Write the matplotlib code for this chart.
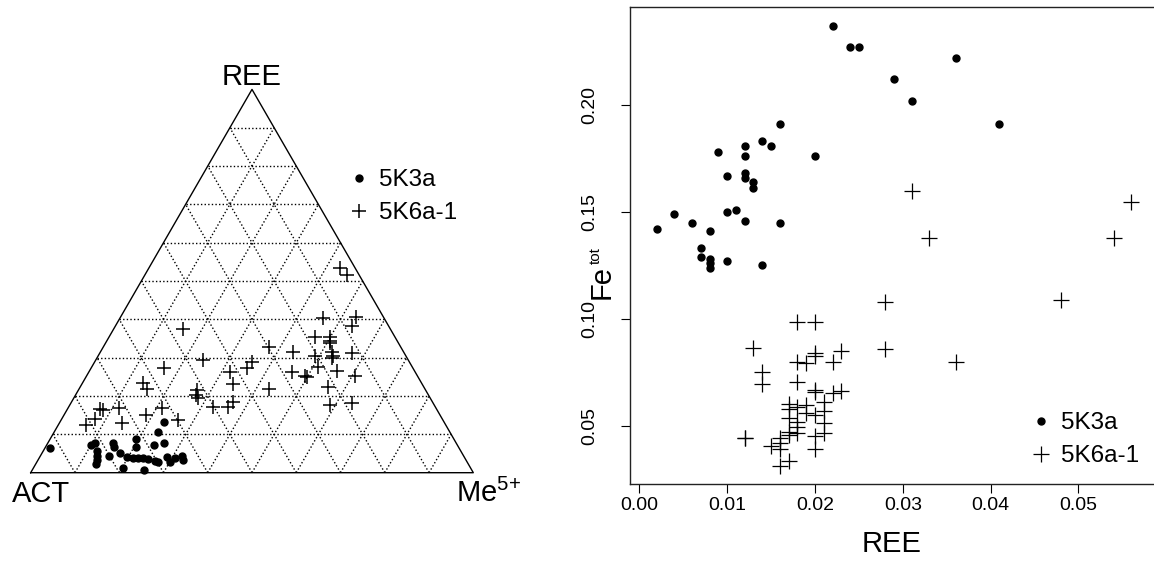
import numpy as np
import matplotlib
matplotlib.use("Agg")
import matplotlib.pyplot as plt

plt.rcParams['font.family'] = ['Liberation Sans', 'DejaVu Sans']
plt.rcParams['mathtext.fontset'] = 'custom'
plt.rcParams['mathtext.rm'] = 'Liberation Sans'
plt.rcParams['mathtext.it'] = 'Liberation Sans:italic'

# ternary compositions (fractions of ACT, REE, Me5+)
act_5k3a = [0.924, 0.632, 0.658, 0.659, 0.685, 0.828, 0.816, 0.822, 0.828, 0.834, 0.841,
            0.776, 0.778, 0.718, 0.728, 0.801, 0.773, 0.762, 0.749, 0.737, 0.727, 0.717,
            0.704, 0.697, 0.786, 0.740, 0.672, 0.671, 0.655, 0.637, 0.640]
ree_5k3a = [0.065, 0.133, 0.107, 0.078, 0.071, 0.072, 0.077, 0.057, 0.044, 0.033, 0.022,
            0.078, 0.068, 0.088, 0.066, 0.044, 0.051, 0.042, 0.038, 0.039, 0.038, 0.035,
            0.031, 0.029, 0.013, 0.007, 0.042, 0.029, 0.038, 0.044, 0.033]
me_5k3a = [0.011, 0.235, 0.235, 0.263, 0.244, 0.100, 0.107, 0.121, 0.128, 0.133, 0.137,
           0.146, 0.154, 0.194, 0.206, 0.155, 0.176, 0.196, 0.213, 0.224, 0.235, 0.248,
           0.265, 0.274, 0.201, 0.253, 0.286, 0.300, 0.307, 0.319, 0.327]

act_5k6a = [0.035, 0.028, 0.062, 0.083, 0.137, 0.181, 0.147, 0.152, 0.155, 0.249,
            0.206, 0.162, 0.164, 0.171, 0.118, 0.277, 0.254, 0.252, 0.213, 0.176,
            0.141, 0.216, 0.235, 0.183, 0.470, 0.296, 0.463, 0.561, 0.418, 0.356,
            0.376, 0.427, 0.352, 0.630, 0.629, 0.517, 0.525, 0.524, 0.501, 0.468,
            0.450, 0.620, 0.715, 0.760, 0.754, 0.664, 0.598, 0.729, 0.785, 0.813]
ree_5k6a = [0.533, 0.516, 0.407, 0.383, 0.403, 0.353, 0.353, 0.344, 0.338, 0.316,
            0.304, 0.316, 0.304, 0.298, 0.313, 0.263, 0.252, 0.249, 0.275, 0.266,
            0.252, 0.224, 0.177, 0.183, 0.374, 0.329, 0.294, 0.274, 0.263, 0.290,
            0.272, 0.231, 0.218, 0.233, 0.218, 0.216, 0.203, 0.194, 0.172, 0.172,
            0.185, 0.168, 0.170, 0.166, 0.164, 0.151, 0.137, 0.130, 0.139, 0.124]
me_5k6a = [0.432, 0.456, 0.531, 0.534, 0.460, 0.466, 0.500, 0.504, 0.507, 0.435,
           0.490, 0.522, 0.532, 0.531, 0.569, 0.460, 0.494, 0.499, 0.512, 0.558,
           0.607, 0.560, 0.588, 0.634, 0.156, 0.375, 0.243, 0.165, 0.319, 0.354,
           0.352, 0.342, 0.430, 0.137, 0.153, 0.267, 0.272, 0.282, 0.327, 0.360,
           0.365, 0.212, 0.115, 0.074, 0.082, 0.185, 0.265, 0.141, 0.076, 0.063]

# REE vs Fe(tot), apfu
ree2_5k3a = [0.022, 0.024, 0.025, 0.036, 0.029, 0.031, 0.041, 0.016, 0.014, 0.015, 0.012,
             0.009, 0.012, 0.020, 0.010, 0.012, 0.012, 0.013, 0.013, 0.002, 0.004, 0.006,
             0.008, 0.010, 0.011, 0.012, 0.016, 0.007, 0.007, 0.008, 0.008, 0.008, 0.010,
             0.014]
fe_5k3a = [0.237, 0.227, 0.227, 0.222, 0.212, 0.202, 0.191, 0.191, 0.183, 0.181, 0.181,
           0.178, 0.176, 0.176, 0.167, 0.168, 0.166, 0.164, 0.161, 0.142, 0.149, 0.145,
           0.141, 0.150, 0.151, 0.146, 0.145, 0.133, 0.129, 0.128, 0.126, 0.124, 0.127,
           0.125]

ree2_5k6a = [0.031, 0.033, 0.056, 0.054, 0.048, 0.036, 0.028, 0.018, 0.020, 0.013,
             0.028, 0.023, 0.020, 0.020, 0.018, 0.019, 0.022, 0.014, 0.014, 0.018,
             0.020, 0.020, 0.023, 0.022, 0.017, 0.017, 0.018, 0.019, 0.019, 0.021,
             0.021, 0.020, 0.017, 0.018, 0.018, 0.021, 0.021, 0.017, 0.017, 0.018,
             0.020, 0.012, 0.012, 0.016, 0.016, 0.016, 0.015, 0.020, 0.017, 0.016]
fe_5k6a = [0.160, 0.138, 0.1545, 0.138, 0.109, 0.080, 0.108, 0.0985, 0.0985, 0.0866,
           0.086, 0.085, 0.084, 0.0827, 0.080, 0.0793, 0.080, 0.0754, 0.0696, 0.0707,
           0.067, 0.0657, 0.0664, 0.0656, 0.0601, 0.0578, 0.0587, 0.0598, 0.0559, 0.0614,
           0.0572, 0.0551, 0.0536, 0.0520, 0.0497, 0.0513, 0.0466, 0.0473, 0.0458, 0.0466,
           0.0453, 0.0442, 0.0444, 0.0442, 0.0419, 0.0393, 0.0407, 0.0393, 0.0338, 0.0313]

labels = ['5K3a', '5K6a-1']
xticks = [0.00, 0.01, 0.02, 0.03, 0.04, 0.05]
yticks = [0.05, 0.10, 0.15, 0.20]

H = np.sqrt(3) / 2


def tern_xy(act, ree, me):
    act, ree, me = np.asarray(act), np.asarray(ree), np.asarray(me)
    tot = act + ree + me
    r, m = ree / tot, me / tot
    return m + r / 2, r * H


fig = plt.figure(figsize=(11.54, 5.63), dpi=100)

# ---- ternary diagram ----
ax1 = fig.add_axes([0, 0, 560 / 1154, 1])
ax1.set_xlim(-30.7 / 442.6, (560 - 30.7) / 442.6)
ax1.set_ylim(-90.3 / 442.6, (563 - 90.3) / 442.6)
ax1.axis('off')

for f in np.arange(1, 10) / 10:
    for a, b in [((1 - f, f, 0), (0, f, 1 - f)),
                 ((1 - f, 0, f), (0, 1 - f, f)),
                 ((f, 0, 1 - f), (f, 1 - f, 0))]:
        x, y = tern_xy([a[0], b[0]], [a[1], b[1]], [a[2], b[2]])
        ax1.plot(x, y, color='black', lw=1.0, linestyle=(0, (1, 1.6)))

tx, ty = tern_xy([1, 0, 0, 1], [0, 1, 0, 0], [0, 0, 1, 0])
ax1.plot(tx, ty, color='black', lw=1.0)

x, y = tern_xy(act_5k3a, ree_5k3a, me_5k3a)
ax1.plot(x, y, 'o', color='black', markersize=5, label=labels[0])
x, y = tern_xy(act_5k6a, ree_5k6a, me_5k6a)
ax1.plot(x, y, '+', color='black', markersize=9.5, mew=1.1, label=labels[1])

ax1.text(0.5, 0.876, 'REE', ha='center', va='baseline', fontsize=21)
ax1.text(-0.043, -0.0655, 'ACT', ha='left', va='baseline', fontsize=21)
ax1.text(0.961, -0.0655, r'Me$^{5{+}}$', ha='left', va='baseline', fontsize=21)

ax1.legend(loc='upper left', bbox_to_anchor=(349.3 / 1154, 1 - 169 / 563),
           bbox_transform=fig.transFigure, frameon=False, fontsize=17.5,
           borderpad=0, borderaxespad=0, handlelength=0.8, handletextpad=0.42,
           labelspacing=0.46)

# ---- REE vs Fe scatter ----
ax2 = fig.add_axes([630 / 1154, 78.7 / 563, 524 / 1154, 477.6 / 563])
ax2.plot(ree2_5k3a, fe_5k3a, 'o', color='black', markersize=5, label=labels[0])
ax2.plot(ree2_5k6a, fe_5k6a, '+', color='black', markersize=11, mew=0.9, label=labels[1])
ax2.set_xlim(-0.00106, 0.0586)
ax2.set_ylim(0.02276, 0.2459)

ax2.set_xticks(xticks)
ax2.set_xticklabels([f'{v:.2f}' for v in xticks])
ax2.set_yticks(yticks)
ax2.set_yticklabels([f'{v:.2f}' for v in yticks], rotation=90, va='center')
ax2.tick_params(axis='both', direction='out', length=6.5, width=0.8, labelsize=14)
ax2.tick_params(axis='x', pad=3)
ax2.tick_params(axis='y', pad=16)
for side in ['left', 'bottom', 'top']:
    ax2.spines[side].set_color('#222222')
    ax2.spines[side].set_linewidth(1.0)
ax2.spines['right'].set_visible(False)

ax2.set_xlabel('REE', fontsize=21, va='baseline')
ax2.xaxis.set_label_coords(0.5, -0.1417)
# y label: "Fe" with a small superscript "tot"
ax2.set_ylabel('Fe', fontsize=21, va='baseline')
ax2.yaxis.set_label_coords(-0.038, 0.423)
ax2.text(-0.057, 0.462, 'tot', transform=ax2.transAxes, fontsize=11,
         rotation=90, rotation_mode='anchor', ha='left', va='baseline')

ax2.legend(loc='upper left', bbox_to_anchor=(1031 / 1154, 1 - 412 / 563),
           bbox_transform=fig.transFigure, frameon=False, fontsize=17.5,
           borderpad=0, borderaxespad=0, handlelength=0.8, handletextpad=0.42,
           labelspacing=0.46)

fig.savefig('out.png', dpi=100)
